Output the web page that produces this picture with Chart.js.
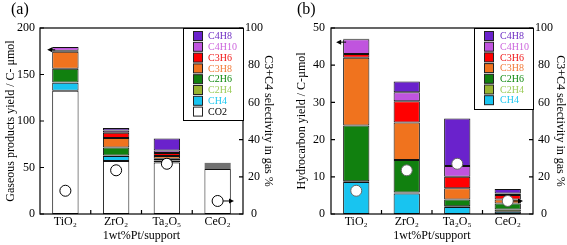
<!DOCTYPE html>
<html>
<head>
<meta charset="utf-8">
<script src="https://cdn.jsdelivr.net/npm/chart.js@4"></script>
<style>
  html, body { margin: 0; padding: 0; background: #fff; }
  .panel { position: absolute; top: 0; }
  #panelA { left: 0; }
  #panelB { left: 288px; }
  .warm { position: absolute; left: -999px; top: 0; font-family: 'Liberation Serif'; }
</style>
</head>
<body>
<span class="warm">TiO₂ 1wt%Pt/support μmol</span>
<div class="panel" id="panelA"><canvas id="gasCanvas" width="288" height="245"></canvas></div>
<div class="panel" id="panelB"><canvas id="hcCanvas" width="279" height="245"></canvas></div>
<script>
// values (C-umol, selectivity in %)
const categories = ['TiO₂', 'ZrO₂', 'Ta₂O₅', 'CeO₂']
const co2 = [132.5, 57, 55.5, 48.5]
const ch4 = [8.6, 5.5, 1.9, 0.6]
const c2h4 = [0.2, 0.3, 0.2, 0.6]
const c2h6 = [15.0, 8.7, 1.8, 1.6]
const c3h8 = [18.2, 10.1, 3.0, 1.1]
const c3h6 = [1.0, 5.7, 3.1, 1.2]
const c4h10 = [4.0, 2.4, 2.9, 0.4]
const c4h8 = [0.1, 2.9, 12.8, 1.2]
const selectivity = [12.5, 23.5, 27, 7]

const fillColors = {
    CO2: '#ffffff', CH4: '#18c4f0', C2H4: '#98b431', C2H6: '#11800f',
    C3H8: '#f0731e', C3H6: '#ff0000', C4H10: '#c054de', C4H8: '#6a22cc'
}
const textColors = {
    CO2: '#000000', CH4: '#20c8f0', C2H4: '#9ccc5a', C2H6: '#118a11',
    C3H8: '#f27a38', C3H6: '#f01818', C4H10: '#cc66dd', C4H8: '#7030c4'
}

const serif = 'Liberation Serif, DejaVu Serif, serif'

function bar(label, data) {
    return {
        type: 'bar', label, data,
        backgroundColor: fillColors[label],
        borderColor: '#111',
        borderWidth: 1,
        borderSkipped: false,
        barPercentage: 0.52,
        categoryPercentage: 1,
        order: 1
    }
}

function circles(data, edge) {
    return {
        type: 'line', label: 'selectivity', data,
        yAxisID: 'y1', showLine: false,
        pointRadius: 5.5, pointBackgroundColor: '#fff',
        pointBorderColor: edge, pointBorderWidth: 1,
        order: 0
    }
}

function arrowHead(ctx, x, y, dir) {
    ctx.beginPath()
    ctx.moveTo(x, y)
    ctx.lineTo(x - dir * 5, y - 2.5)
    ctx.lineTo(x - dir * 5, y + 2.5)
    ctx.closePath()
    ctx.fill()
}

const decor = {
    id: 'decor',
    afterDraw(chart, args, opts) {
        const ctx = chart.ctx
        const area = chart.chartArea
        const { x, y, y1 } = chart.scales
        ctx.save()
        ctx.strokeStyle = '#000'
        ctx.fillStyle = '#000'
        ctx.lineWidth = 1.2
        ctx.strokeRect(area.left, area.top, area.right - area.left, area.bottom - area.top)

        // inward ticks
        ctx.beginPath()
        y.ticks.forEach(t => {
            const p = y.getPixelForValue(t.value)
            ctx.moveTo(area.left, p); ctx.lineTo(area.left + 4, p)
        })
        y1.ticks.forEach(t => {
            const p = y1.getPixelForValue(t.value)
            ctx.moveTo(area.right, p); ctx.lineTo(area.right - 4, p)
        })
        for (let i = 0; i < categories.length - 1; i++) {
            const p = (x.getPixelForValue(i) + x.getPixelForValue(i + 1)) / 2
            ctx.moveTo(p, area.bottom); ctx.lineTo(p, area.bottom - 4)
        }
        ctx.stroke()

        // legend box
        const items = chart.data.datasets.filter(d => d.type === 'bar').reverse()
        const lg = opts.legend
        const bx = area.right - lg.width, by = area.top
        ctx.lineWidth = 1
        ctx.fillStyle = '#fff'
        ctx.fillRect(bx, by, lg.width, lg.height)
        ctx.strokeRect(bx + 0.5, by + 0.5, lg.width, lg.height)
        ctx.font = '10px ' + serif
        ctx.textBaseline = 'middle'
        ctx.textAlign = 'left'
        items.forEach((d, i) => {
            const cy = by + 8 + i * lg.row
            ctx.fillStyle = d.backgroundColor
            ctx.fillRect(bx + 10, cy - 4.5, 9, 9)
            ctx.strokeStyle = '#222'
            ctx.strokeRect(bx + 10.5, cy - 4.5, 9, 9)
            ctx.fillStyle = textColors[d.label]
            ctx.fillText(d.label, bx + lg.textOffset, cy + 0.5)
        })

        // arrows pointing to the axis each series belongs to
        ctx.fillStyle = '#000'
        ctx.strokeStyle = '#000'
        ctx.lineWidth = 1
        const barEl = chart.getDatasetMeta(0).data[0]
        const barLeft = barEl.x - barEl.width / 2
        const ay = y.getPixelForValue(opts.leftArrow.value)
        ctx.beginPath()
        ctx.moveTo(barLeft + opts.leftArrow.from, ay)
        ctx.lineTo(barLeft + opts.leftArrow.to + 4, ay)
        ctx.stroke()
        arrowHead(ctx, barLeft + opts.leftArrow.to, ay, -1)

        const pts = chart.getDatasetMeta(chart.data.datasets.length - 1).data
        const pt = pts[pts.length - 1]
        const tipX = area.right - opts.rightArrowGap
        ctx.beginPath()
        ctx.moveTo(pt.x + 5.5, pt.y)
        ctx.lineTo(tipX - 4, pt.y)
        ctx.stroke()
        arrowHead(ctx, tipX, pt.y, 1)

        // panel label
        ctx.font = '16px ' + serif
        ctx.textAlign = 'left'
        ctx.textBaseline = 'middle'
        ctx.fillText(opts.label, opts.labelX, 10)
        ctx.restore()
    }
}

function makeConfig(p) {
    const tickFont = { family: serif, size: 12 }
    return {
        type: 'bar',
        data: { labels: categories, datasets: p.datasets },
        options: {
            responsive: false,
            animation: false,
            devicePixelRatio: 1,
            layout: { padding: { top: 28, left: 0, right: 0, bottom: 0 } },
            plugins: {
                legend: { display: false },
                tooltip: { enabled: false },
                decor: p.decor
            },
            scales: {
                x: {
                    stacked: true,
                    grid: { display: false, drawTicks: false },
                    border: { display: false },
                    ticks: { color: '#000', font: tickFont, padding: 1 },
                    title: {
                        display: true, text: '1wt%Pt/support', color: '#000',
                        font: tickFont, padding: { top: 0, bottom: 2 }
                    },
                    afterFit: s => { s.height = 31 }
                },
                y: {
                    stacked: true,
                    min: 0,
                    max: p.yMax,
                    ticks: { stepSize: p.yStep, color: '#000', font: tickFont, padding: p.yPad },
                    grid: { display: false, drawTicks: false },
                    border: { display: false },
                    title: {
                        display: true, text: p.yTitle, color: '#000',
                        font: tickFont, padding: { top: p.yTitlePad, bottom: 0 }
                    },
                    afterFit: s => { s.width = p.yWidth }
                },
                y1: {
                    position: 'right',
                    min: 0,
                    max: 100,
                    ticks: { stepSize: 20, color: '#000', font: tickFont, padding: 2, crossAlign: 'center' },
                    grid: { display: false, drawTicks: false },
                    border: { display: false },
                    title: {
                        display: true, text: 'C3+C4 selectivity in gas %', color: '#000',
                        font: tickFont, padding: { top: p.y1TitlePad, bottom: 0 }
                    },
                    afterFit: s => { s.width = p.y1Width }
                }
            }
        },
        plugins: [decor]
    }
}

const hydrocarbons = () => [
    bar('CH4', ch4), bar('C2H4', c2h4), bar('C2H6', c2h6), bar('C3H8', c3h8),
    bar('C3H6', c3h6), bar('C4H10', c4h10), bar('C4H8', c4h8)
]

function init() {
    new Chart(document.querySelector('#gasCanvas'), makeConfig({
        datasets: [bar('CO2', co2), ...hydrocarbons(), circles(selectivity, '#000')],
        yMax: 200, yStep: 50, yPad: 5, yWidth: 40, yTitlePad: 4,
        yTitle: 'Gaseous products yield / C- μmol',
        y1Width: 45, y1TitlePad: 13,
        decor: {
            label: '(a)', labelX: 11,
            legend: { width: 60, height: 92, row: 10.8, textOffset: 25 },
            leftArrow: { value: 176.5, from: 3, to: -5 },
            rightArrowGap: 9
        }
    }))

    new Chart(document.querySelector('#hcCanvas'), makeConfig({
        datasets: [...hydrocarbons(), circles(selectivity, '#666')],
        yMax: 50, yStep: 10, yPad: 6, yWidth: 43, yTitlePad: 7,
        yTitle: 'Hydrocarbon yield / C-µmol',
        y1Width: 34, y1TitlePad: 0,
        decor: {
            label: '(b)', labelX: 9,
            legend: { width: 59, height: 81, row: 10.7, textOffset: 26 },
            leftArrow: { value: 46.2, from: 3, to: -7 },
            rightArrowGap: 10
        }
    }))
}

document.fonts.load('12px "Liberation Serif"').then(init, init)
</script>
</body>
</html>
